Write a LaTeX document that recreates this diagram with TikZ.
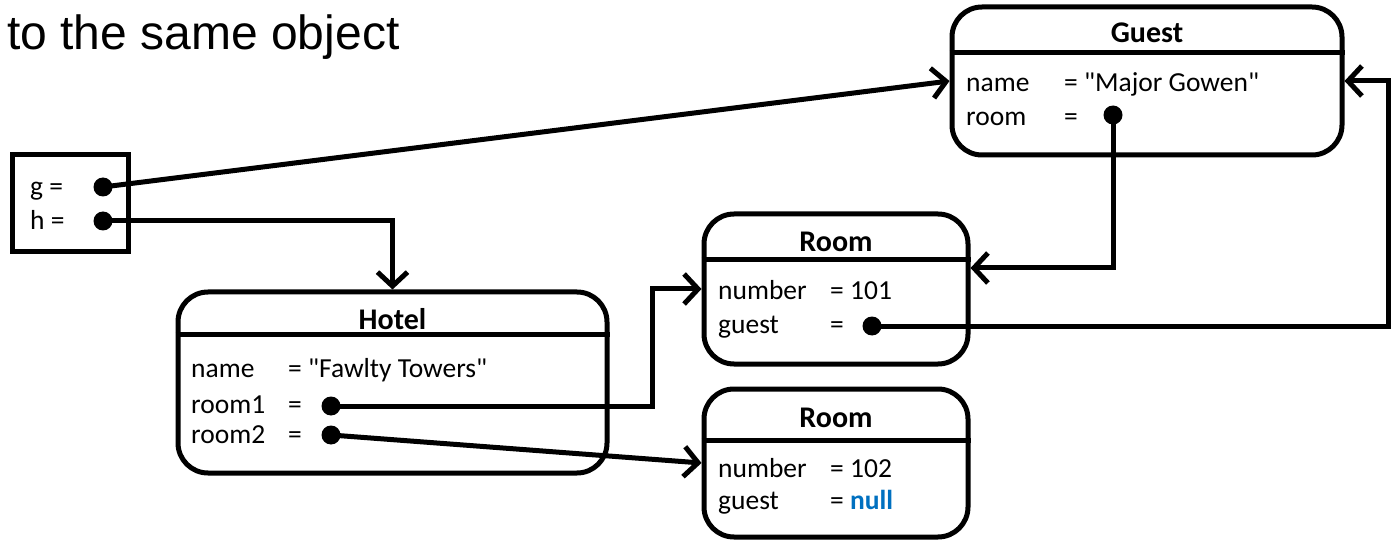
\documentclass[tikz,border=0pt]{standalone}
\usepackage{fontspec}
\setmainfont{Carlito}[Ligatures=TeXOff]
\newfontfamily\arialf{Liberation Sans}
\usetikzlibrary{arrows.meta}
\definecolor{nullblue}{HTML}{0070C0}
\begin{document}
\begin{tikzpicture}[x=1pt,y=-1pt,
  objbox/.style={draw,line width=5pt,rounded corners=30pt,inner sep=0pt},
  varbox/.style={draw,line width=5pt,inner sep=0pt},
  sep/.style={line width=5pt},
  txt/.style={anchor=base west,inner sep=0pt,font=\fontsize{27.5}{27.5}\selectfont},
  hdr/.style={anchor=base,inner sep=0pt,font=\fontsize{30}{30}\selectfont\bfseries},
  dot/.style={circle,fill,inner sep=0pt,minimum size=19pt},
  conn/.style={line width=5pt,-{Straight Barb[length=14pt,width=30pt]}}]
\useasboundingbox (0,0) rectangle (1393,540);

% title
\node[anchor=base west,inner sep=0pt,font=\fontsize{48}{48}\selectfont\arialf] (title) at (7,50) {to the same object};

% variables box
\node[varbox,minimum width=116pt,minimum height=97pt] (vars) at (70,203.5) {};
\node[txt] (gl) at (30,196) {g =};
\node[txt] (hl) at (30,230) {h =};
\node[dot] (gdot) at (103,187) {};
\node[dot] (hdot) at (103,221) {};

% Hotel
\node[objbox,minimum width=429pt,minimum height=181pt] (hotel) at (392.5,382.5) {};
\node[hdr] (hotelh) at (392.5,329) {Hotel};
\draw[sep] (hotel.west |- 0,334) -- (hotel.east |- 0,334);
\node[txt] (hn) at (191,377) {name};
\node[txt] (hnv) at (288,377) {= "Fawlty Towers"};
\node[txt] (hr1) at (191,413) {room1};
\node[txt] (hr1v) at (288,413) {=};
\node[txt] (hr2) at (191,443) {room2};
\node[txt] (hr2v) at (288,443) {=};
\node[dot] (r1dot) at (331,406) {};
\node[dot] (r2dot) at (331,435) {};

% Room 1
\node[objbox,minimum width=264pt,minimum height=150pt] (room1) at (836,289) {};
\node[hdr] (room1h) at (836,252) {Room};
\draw[sep] (room1.west |- 0,260) -- (room1.east |- 0,260);
\node[txt] (r1n) at (718,300) {number};
\node[txt] (r1nv) at (830,300) {= 101};
\node[txt] (r1g) at (718,333) {guest};
\node[txt] (r1gv) at (830,333) {=};
\node[dot] (r1gdot) at (872,326) {};

% Room 2
\node[objbox,minimum width=264pt,minimum height=148pt] (room2) at (836,463) {};
\node[hdr] (room2h) at (836,427) {Room};
\draw[sep] (room2.west |- 0,440) -- (room2.east |- 0,440);
\node[txt] (r2n) at (718,477) {number};
\node[txt] (r2nv) at (830,477) {= 102};
\node[txt] (r2g) at (718,509) {guest};
\node[txt] (r2gv) at (830,509) {= \textcolor{nullblue}{\bfseries null}};

% Guest
\node[objbox,minimum width=390pt,minimum height=148pt] (guest) at (1147,81) {};
\node[hdr] (guesth) at (1147,43) {Guest};
\draw[sep] (guest.west |- 0,53) -- (guest.east |- 0,53);
\node[txt] (gn) at (966,92) {name};
\node[txt] (gnv) at (1064,92) {= "Major Gowen"};
\node[txt] (gr) at (966,126) {room};
\node[txt] (grv) at (1064,126) {=};
\node[dot] (grdot) at (1113,115) {};

% connectors
\coordinate (hbend) at (652,289);
\coordinate (rbend) at (1388,81);
\draw[conn] (gdot.center) -- (guest.west);
\draw[conn] (hdot.center) -| (hotel.north);
\draw[conn] (r1dot.center) -| (hbend) -- (room1.west);
\draw[conn] (r2dot.center) -- (room2.west);
\draw[conn] (grdot.center) |- ([yshift=21pt]room1.east);
\draw[conn] (r1gdot.center) -| (rbend) -- (guest.east);
\end{tikzpicture}
\end{document}
